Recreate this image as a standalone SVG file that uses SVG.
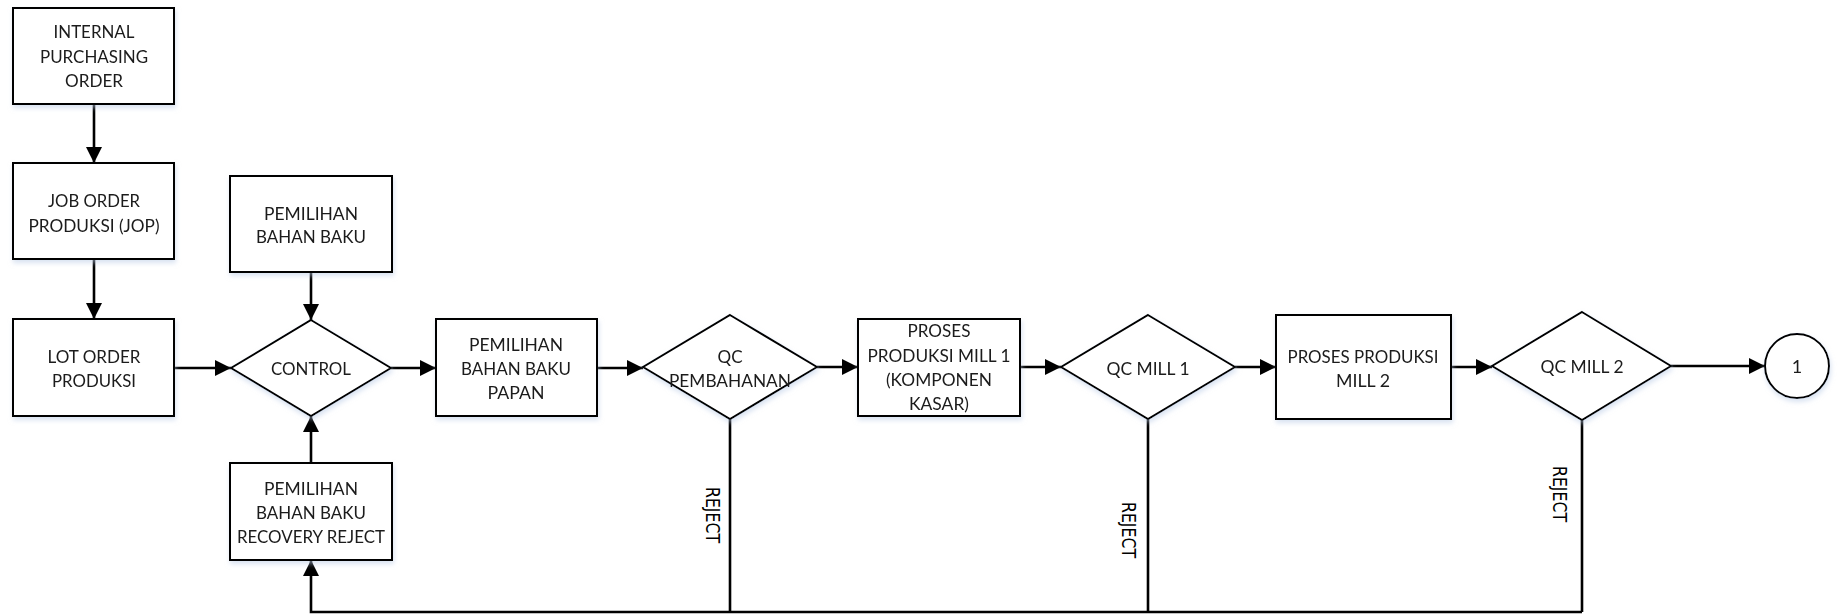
<svg xmlns="http://www.w3.org/2000/svg" width="1840" height="614" viewBox="0 0 1840 614">
  <style>
    .box { fill: #ffffff; stroke: #000000; stroke-width: 2; }
    .lbl { font-family: Lato, "Liberation Sans", Arial, sans-serif; font-size: 18px; fill: #1a1a1a; text-anchor: middle; }
    .rej { font-family: "DejaVu Sans", sans-serif; font-size: 19px; fill: #000000; text-anchor: middle; }
    .wire { fill: none; stroke: #000000; stroke-width: 2.6; }
    .arrow { fill: none; stroke: #000000; stroke-width: 2.6; marker-end: url(#head); }
  </style>
  <defs>
    <marker id="head" markerUnits="userSpaceOnUse" markerWidth="17" markerHeight="17" refX="16" refY="8" orient="auto">
      <path d="M0,0 L16,8 L0,16 Z" fill="#000000"/>
    </marker>
    <filter id="soft" x="-10%" y="-10%" width="125%" height="130%">
      <feGaussianBlur in="SourceAlpha" stdDeviation="2.5" result="b"/>
      <feOffset in="b" dx="1" dy="3" result="o"/>
      <feFlood flood-color="#b9cbe6" flood-opacity="0.55"/>
      <feComposite in2="o" operator="in" result="s"/>
      <feMerge>
        <feMergeNode in="s"/>
        <feMergeNode in="SourceGraphic"/>
      </feMerge>
    </filter>
  </defs>

  <rect x="0" y="0" width="1840" height="614" fill="#ffffff"/>

  <!-- connectors -->
  <g id="connectors">
    <line class="arrow" x1="94" y1="104" x2="94" y2="163"/>
    <line class="arrow" x1="94" y1="259" x2="94" y2="319"/>
    <line class="arrow" x1="174" y1="368" x2="231" y2="368"/>
    <line class="arrow" x1="311" y1="272" x2="311" y2="320"/>
    <line class="arrow" x1="311" y1="463" x2="311" y2="416"/>
    <line class="arrow" x1="391" y1="368" x2="436" y2="368"/>
    <line class="arrow" x1="597" y1="368" x2="643" y2="368"/>
    <line class="arrow" x1="817" y1="367" x2="858" y2="367"/>
    <line class="arrow" x1="1020" y1="367" x2="1061" y2="367"/>
    <line class="arrow" x1="1235" y1="367" x2="1276" y2="367"/>
    <line class="arrow" x1="1451" y1="367" x2="1492" y2="367"/>
    <line class="arrow" x1="1671" y1="366" x2="1765" y2="366"/>
    <!-- reject return path -->
    <line class="wire" x1="730" y1="419" x2="730" y2="612"/>
    <line class="wire" x1="1148" y1="419" x2="1148" y2="612"/>
    <line class="wire" x1="1582" y1="420" x2="1582" y2="612"/>
    <polyline class="arrow" points="1582,612 311,612 311,560"/>
    <text class="rej" transform="translate(706,515) rotate(90)" textLength="56" lengthAdjust="spacingAndGlyphs">REJECT</text>
    <text class="rej" transform="translate(1122,530) rotate(90)" textLength="56" lengthAdjust="spacingAndGlyphs">REJECT</text>
    <text class="rej" transform="translate(1553,494) rotate(90)" textLength="56" lengthAdjust="spacingAndGlyphs">REJECT</text>
  </g>

  <g id="internal-purchasing-order" filter="url(#soft)">
    <rect class="box" x="13" y="8" width="161" height="96"/>
    <text class="lbl" x="94" y="38" textLength="81" lengthAdjust="spacingAndGlyphs">INTERNAL</text>
    <text class="lbl" x="94" y="63" textLength="108" lengthAdjust="spacingAndGlyphs">PURCHASING</text>
    <text class="lbl" x="94" y="87" textLength="58" lengthAdjust="spacingAndGlyphs">ORDER</text>
  </g>

  <g id="job-order-produksi" filter="url(#soft)">
    <rect class="box" x="13" y="163" width="161" height="96"/>
    <text class="lbl" x="94" y="207" textLength="92" lengthAdjust="spacingAndGlyphs">JOB ORDER</text>
    <text class="lbl" x="94" y="232" textLength="131" lengthAdjust="spacingAndGlyphs">PRODUKSI (JOP)</text>
  </g>

  <g id="lot-order-produksi" filter="url(#soft)">
    <rect class="box" x="13" y="319" width="161" height="97"/>
    <text class="lbl" x="94" y="363" textLength="93" lengthAdjust="spacingAndGlyphs">LOT ORDER</text>
    <text class="lbl" x="94" y="387" textLength="84" lengthAdjust="spacingAndGlyphs">PRODUKSI</text>
  </g>

  <g id="pemilihan-bahan-baku" filter="url(#soft)">
    <rect class="box" x="230" y="176" width="162" height="96"/>
    <text class="lbl" x="311" y="220" textLength="94" lengthAdjust="spacingAndGlyphs">PEMILIHAN</text>
    <text class="lbl" x="311" y="243" textLength="110" lengthAdjust="spacingAndGlyphs">BAHAN BAKU</text>
  </g>

  <g id="control" filter="url(#soft)">
    <polygon class="box" points="311,320 391,368 311,416 231,368"/>
    <text class="lbl" x="311" y="375" textLength="80" lengthAdjust="spacingAndGlyphs">CONTROL</text>
  </g>

  <g id="pemilihan-recovery-reject" filter="url(#soft)">
    <rect class="box" x="230" y="463" width="162" height="97"/>
    <text class="lbl" x="311" y="495" textLength="94" lengthAdjust="spacingAndGlyphs">PEMILIHAN</text>
    <text class="lbl" x="311" y="519" textLength="110" lengthAdjust="spacingAndGlyphs">BAHAN BAKU</text>
    <text class="lbl" x="311" y="543" textLength="148" lengthAdjust="spacingAndGlyphs">RECOVERY REJECT</text>
  </g>

  <g id="pemilihan-bahan-baku-papan" filter="url(#soft)">
    <rect class="box" x="436" y="319" width="161" height="97"/>
    <text class="lbl" x="516" y="351" textLength="94" lengthAdjust="spacingAndGlyphs">PEMILIHAN</text>
    <text class="lbl" x="516" y="375" textLength="110" lengthAdjust="spacingAndGlyphs">BAHAN BAKU</text>
    <text class="lbl" x="516" y="399" textLength="57" lengthAdjust="spacingAndGlyphs">PAPAN</text>
  </g>

  <g id="qc-pembahanan" filter="url(#soft)">
    <polygon class="box" points="730,315 817,367 730,419 643,367"/>
    <text class="lbl" x="730" y="363" textLength="25" lengthAdjust="spacingAndGlyphs">QC</text>
    <text class="lbl" x="730" y="387" textLength="122" lengthAdjust="spacingAndGlyphs">PEMBAHANAN</text>
  </g>

  <g id="proses-produksi-mill-1" filter="url(#soft)">
    <rect class="box" x="858" y="319" width="162" height="97"/>
    <text class="lbl" x="939" y="337" textLength="63" lengthAdjust="spacingAndGlyphs">PROSES</text>
    <text class="lbl" x="939" y="362" textLength="143" lengthAdjust="spacingAndGlyphs">PRODUKSI MILL 1</text>
    <text class="lbl" x="939" y="386" textLength="106" lengthAdjust="spacingAndGlyphs">(KOMPONEN</text>
    <text class="lbl" x="939" y="410" textLength="60" lengthAdjust="spacingAndGlyphs">KASAR)</text>
  </g>

  <g id="qc-mill-1" filter="url(#soft)">
    <polygon class="box" points="1148,315 1235,367 1148,419 1061,367"/>
    <text class="lbl" x="1148" y="375" textLength="83" lengthAdjust="spacingAndGlyphs">QC MILL 1</text>
  </g>

  <g id="proses-produksi-mill-2" filter="url(#soft)">
    <rect class="box" x="1276" y="315" width="175" height="104"/>
    <text class="lbl" x="1363" y="363" textLength="151" lengthAdjust="spacingAndGlyphs">PROSES PRODUKSI</text>
    <text class="lbl" x="1363" y="387" textLength="54" lengthAdjust="spacingAndGlyphs">MILL 2</text>
  </g>

  <g id="qc-mill-2" filter="url(#soft)">
    <polygon class="box" points="1582,312 1671,366 1582,420 1492,366"/>
    <text class="lbl" x="1582" y="373" textLength="83" lengthAdjust="spacingAndGlyphs">QC MILL 2</text>
  </g>

  <g id="connector-1" filter="url(#soft)">
    <circle class="box" cx="1797" cy="366" r="32"/>
    <text class="lbl" x="1797" y="373">1</text>
  </g>
</svg>
